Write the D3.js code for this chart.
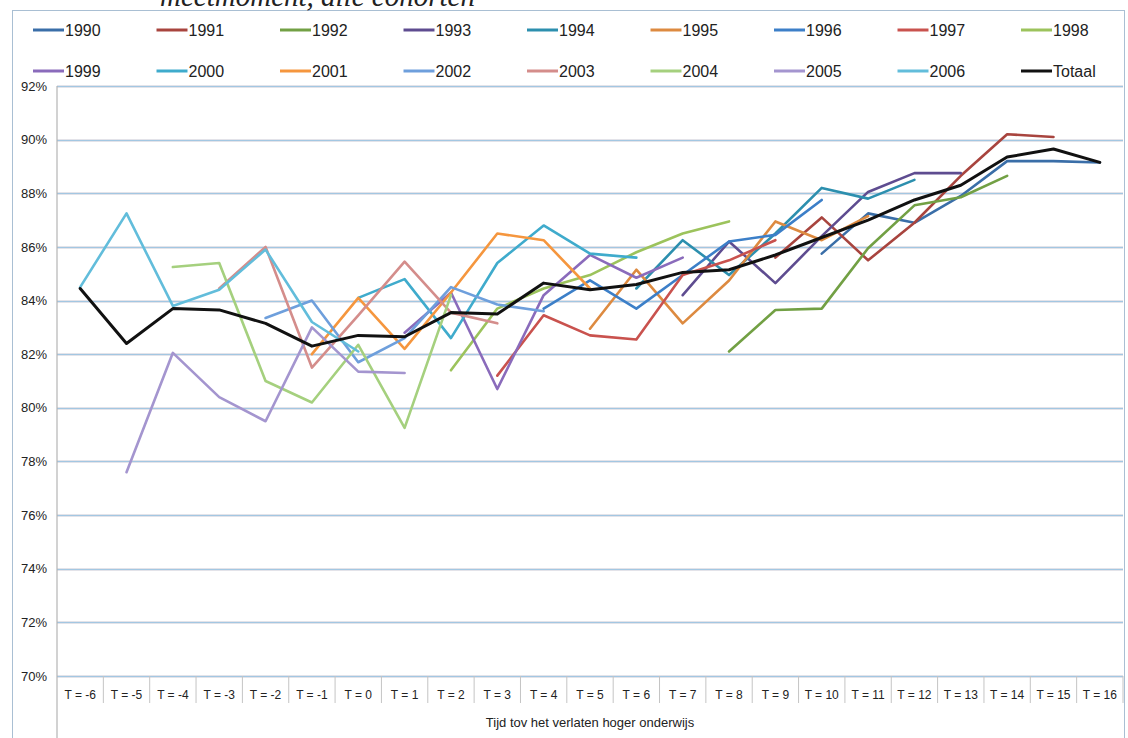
<!DOCTYPE html>
<html>
<head>
<meta charset="utf-8">
<script src="https://cdn.jsdelivr.net/npm/d3@7"></script>
<style>
  html, body { margin: 0; padding: 0; background: #fff; }
  svg { display: block; }
  text { font-family: "Liberation Sans", Arial, sans-serif; fill: #222; }
</style>
</head>
<body>
<svg id="chart" width="1128" height="738"></svg>
<script>
// Time relative to leaving higher education
const categories = ["T = -6","T = -5","T = -4","T = -3","T = -2","T = -1","T = 0","T = 1","T = 2","T = 3","T = 4","T = 5","T = 6","T = 7","T = 8","T = 9","T = 10","T = 11","T = 12","T = 13","T = 14","T = 15","T = 16"];

const yTicks = [70, 72, 74, 76, 78, 80, 82, 84, 86, 88, 90, 92];

// Cohort names and the first T each cohort is measured at
const cohorts  = ["1990","1991","1992","1993","1994","1995","1996","1997","1998","1999","2000","2001","2002","2003","2004","2005","2006"];
const firstT   = [10, 9, 8, 7, 6, 5, 4, 3, 2, 1, 0, -1, -2, -3, -4, -5, -6];

// Percentages per cohort, seven consecutive measurements each
const v1990 = [85.75, 87.25, 86.9, 87.9, 89.2, 89.2, 89.15];
const v1991 = [85.6, 87.1, 85.5, 86.9, 88.65, 90.2, 90.1];
const v1992 = [82.1, 83.65, 83.7, 85.95, 87.55, 87.85, 88.65];
const v1993 = [84.2, 86.2, 84.65, 86.4, 88.05, 88.75, 88.75];
const v1994 = [84.45, 86.25, 84.95, 86.5, 88.2, 87.8, 88.5];
const v1995 = [82.95, 85.15, 83.15, 84.75, 86.95, 86.25, 87.15];
const v1996 = [83.7, 84.75, 83.7, 84.95, 86.2, 86.45, 87.75];
const v1997 = [81.2, 83.45, 82.7, 82.55, 84.95, 85.5, 86.25];
const v1998 = [81.4, 83.7, 84.45, 84.95, 85.8, 86.5, 86.95];
const v1999 = [82.8, 84.3, 80.7, 84.2, 85.7, 84.85, 85.6];
const v2000 = [84.1, 84.8, 82.6, 85.4, 86.8, 85.75, 85.6];
const v2001 = [82.0, 84.1, 82.2, 84.3, 86.5, 86.25, 84.45];
const v2002 = [83.35, 84.0, 81.7, 82.6, 84.5, 83.85, 83.6];
const v2003 = [84.45, 86.0, 81.5, 83.45, 85.45, 83.55, 83.15];
const v2004 = [85.25, 85.4, 81.0, 80.2, 82.35, 79.25, 84.2];
const v2005 = [77.6, 82.05, 80.4, 79.5, 83.0, 81.35, 81.3];
const v2006 = [84.5, 87.25, 83.8, 84.4, 85.9, 83.2, 82.1];
const cohortValues = [v1990, v1991, v1992, v1993, v1994, v1995, v1996, v1997, v1998, v1999, v2000, v2001, v2002, v2003, v2004, v2005, v2006];

// Total over all cohorts, T = -6 .. 16
const totaal = [84.45, 82.4, 83.7, 83.65, 83.15, 82.3, 82.7, 82.65, 83.55, 83.5, 84.65, 84.4, 84.6, 85.05, 85.15, 85.7, 86.35, 87.0, 87.75, 88.3, 89.35, 89.65, 89.15];

const cohortColors = ["#3a6ea8","#a8443e","#72a044","#5e4c90","#2c8fae","#dd8a40","#3c7fc8","#c9524e","#9cc35c","#8a6bbb","#3fabcc","#f5963e","#6e9fdc","#d48d8b","#a5d07e","#a495cf","#62bddb"];

const svg = d3.select("#chart");

// chart frame
svg.append("rect")
  .attr("x", 12.5).attr("y", 10.5).attr("width", 1112).attr("height", 740)
  .attr("fill", "none").attr("stroke", "#a9bfd3").attr("stroke-width", 1);

// title line, partly above the visible area
svg.append("text")
  .attr("x", 160).attr("y", 6)
  .style("font-family", "'Liberation Serif', 'DejaVu Serif', serif")
  .style("font-style", "italic")
  .style("font-size", "29px")
  .text("meetmoment, alle cohorten");

const plotLeft = 57, plotRight = 1123, plotTop = 86, plotBottom = 676;

const x = d3.scaleBand().domain(categories).range([plotLeft, plotRight]).padding(0);
const y = d3.scaleLinear().domain([70, 92]).range([plotBottom, plotTop]);
const cx = t => x(categories[t + 6]) + x.bandwidth() / 2;
const gy0 = d => Math.round(y(d)) + 0.5;

// horizontal gridlines, snapped to the pixel grid
const grid = svg.append("g");
grid.selectAll("line.halo").data(yTicks).join("line")
  .attr("x1", plotLeft).attr("x2", plotRight)
  .attr("y1", gy0).attr("y2", gy0)
  .attr("stroke", "#f9eceb").attr("stroke-width", 3);
grid.selectAll("line.g").data(yTicks).join("line")
  .attr("x1", plotLeft).attr("x2", plotRight)
  .attr("y1", gy0).attr("y2", gy0)
  .attr("stroke", "#a3c7e2").attr("stroke-width", 1.4);

// y axis
const yAxis = d3.axisLeft(y).tickValues(yTicks).tickFormat(d => d + "%").tickSize(0).tickPadding(10);
const gy = svg.append("g").attr("transform", `translate(${plotLeft},0)`).call(yAxis);
gy.select(".domain").remove();
gy.selectAll("text").style("font-size", "13px").style("font-family", "'Liberation Sans', Arial, sans-serif").attr("fill", "#333");
svg.append("line")
  .attr("x1", plotLeft).attr("x2", plotLeft).attr("y1", plotTop).attr("y2", 738)
  .attr("stroke", "#b4b4b4").attr("stroke-width", 1.2);

// x axis: separators between categories and labels
const seps = categories.map(c => x(c)).slice(1).concat([plotRight]);
svg.append("g").selectAll("line").data(seps).join("line")
  .attr("x1", d => d).attr("x2", d => d)
  .attr("y1", plotBottom).attr("y2", plotBottom + 27)
  .attr("stroke", "#c4c4c4").attr("stroke-width", 1);
svg.append("g").selectAll("text").data(categories).join("text")
  .attr("x", d => x(d) + x.bandwidth() / 2)
  .attr("y", plotBottom + 23)
  .attr("text-anchor", "middle")
  .style("font-size", "12px")
  .attr("fill", "#333")
  .text(d => d);
svg.append("text")
  .attr("x", (plotLeft + plotRight) / 2).attr("y", 727)
  .attr("text-anchor", "middle")
  .style("font-size", "13px")
  .attr("fill", "#333")
  .text("Tijd tov het verlaten hoger onderwijs");

// series lines
const line = d3.line().x(d => cx(d.t)).y(d => y(d.v));
const lines = svg.append("g").attr("fill", "none").attr("stroke-linejoin", "round").attr("stroke-linecap", "round");
cohorts.forEach((name, i) => {
  const pts = cohortValues[i].map((v, k) => ({ t: firstT[i] + k, v }));
  lines.append("path").datum(pts)
    .attr("d", line)
    .attr("stroke", cohortColors[i])
    .attr("stroke-width", 2.6);
});
lines.append("path")
  .datum(totaal.map((v, k) => ({ t: k - 6, v })))
  .attr("d", line)
  .attr("stroke", "#111")
  .attr("stroke-width", 3);

// legend, two rows of nine
const legendItems = cohorts.map((n, i) => ({ name: n, color: cohortColors[i] }))
  .concat([{ name: "Totaal", color: "#111" }]);
const legend = svg.append("g");
legendItems.forEach((it, i) => {
  const col = i % 9, row = Math.floor(i / 9);
  const lx = 33 + col * 123.5, ly = 30 + row * 41;
  legend.append("line")
    .attr("x1", lx).attr("x2", lx + 31).attr("y1", ly).attr("y2", ly)
    .attr("stroke", it.color).attr("stroke-width", 3);
  legend.append("text")
    .attr("x", lx + 32).attr("y", ly + 5.5)
    .style("font-size", "16px")
    .attr("fill", "#222")
    .text(it.name);
});
</script>
</body>
</html>
